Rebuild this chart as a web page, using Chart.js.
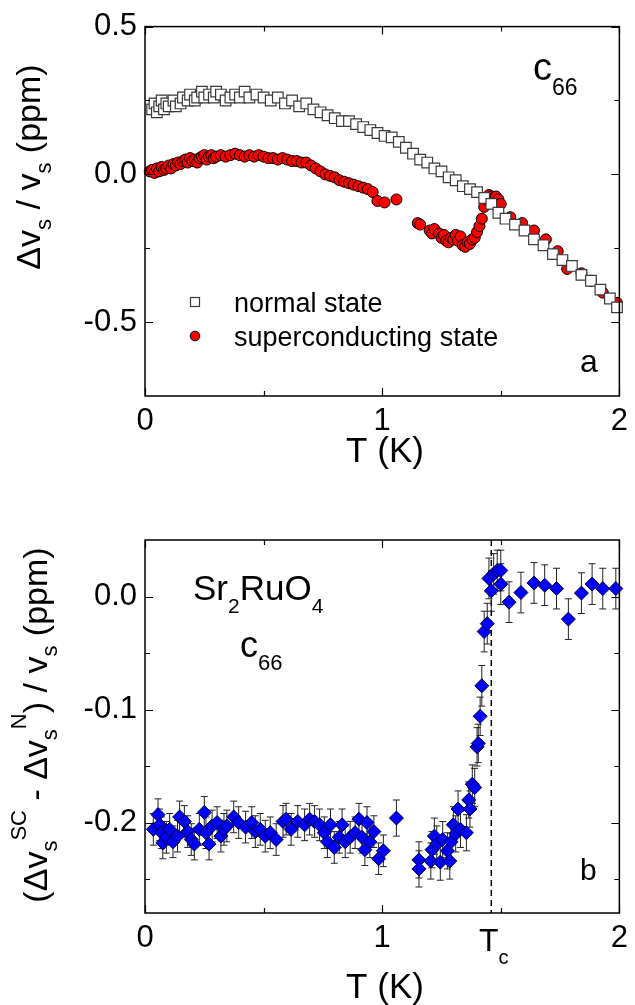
<!DOCTYPE html>
<html>
<head>
<meta charset="utf-8">
<script src="https://cdn.jsdelivr.net/npm/chart.js@4.4.1/dist/chart.umd.min.js"></script>
<style>
  html, body { margin: 0; padding: 0; background: #fff; }
  #wrap { position: relative; width: 635px; height: 1005px; }
  canvas { position: absolute; left: 0; }
</style>
</head>
<body>
<div id="wrap">
  <canvas id="panelA" width="635" height="470" style="top:0"></canvas>
  <canvas id="panelB" width="635" height="535" style="top:470px"></canvas>
</div>
<script>
// ---- data ----
// panel a: [T (K), dv/v (ppm)]
const normalState = [
  [0.03,0.22],[0.04,0.24],[0.05,0.21],[0.06,0.23],[0.07,0.25],[0.08,0.22],[0.09,0.24],[0.10,0.23],
  [0.12,0.25],[0.13,0.23],[0.15,0.24],[0.16,0.26],[0.18,0.25],[0.19,0.27],[0.21,0.25],[0.22,0.26],
  [0.24,0.28],[0.25,0.26],[0.27,0.27],[0.29,0.26],[0.30,0.28],[0.32,0.27],[0.34,0.25],[0.36,0.26],
  [0.38,0.27],[0.40,0.26],[0.42,0.28],[0.44,0.26],[0.47,0.27],[0.50,0.26],[0.53,0.25],[0.56,0.26],
  [0.59,0.24],[0.62,0.25],[0.65,0.23],[0.68,0.24],[0.71,0.22],[0.74,0.21],[0.77,0.20],[0.80,0.19],
  [0.83,0.18],[0.86,0.18],[0.89,0.17],[0.92,0.16],[0.95,0.15],[0.98,0.14],[1.01,0.13],[1.04,0.125],
  [1.07,0.11],[1.10,0.09],[1.13,0.07],[1.16,0.05],[1.19,0.04],[1.22,0.02],[1.25,0.01],[1.28,-0.01],
  [1.31,-0.02],[1.34,-0.04],[1.37,-0.05],[1.40,-0.06],[1.43,-0.08],[1.46,-0.10],[1.49,-0.13],[1.52,-0.15],
  [1.56,-0.17],[1.60,-0.19],[1.64,-0.22],[1.68,-0.24],[1.72,-0.27],[1.76,-0.29],[1.80,-0.31],[1.84,-0.34],
  [1.88,-0.36],[1.92,-0.39],[1.96,-0.42],[1.99,-0.45]
];
const superState = [
  [0.02,0.01],[0.03,0.015],[0.04,0.005],[0.05,0.02],[0.06,0.01],[0.07,0.025],[0.08,0.015],[0.09,0.02],
  [0.10,0.03],[0.11,0.02],[0.12,0.035],[0.13,0.03],[0.14,0.04],[0.15,0.035],[0.16,0.045],[0.17,0.05],
  [0.18,0.04],[0.19,0.055],[0.20,0.045],[0.21,0.05],[0.22,0.04],[0.23,0.055],[0.24,0.06],[0.25,0.065],
  [0.26,0.05],[0.27,0.06],[0.28,0.065],[0.29,0.055],[0.30,0.06],[0.32,0.065],[0.34,0.06],[0.36,0.065],
  [0.38,0.07],[0.40,0.065],[0.42,0.06],[0.44,0.065],[0.46,0.06],[0.48,0.065],[0.50,0.06],[0.52,0.055],
  [0.54,0.055],[0.56,0.05],[0.58,0.055],[0.60,0.05],[0.62,0.045],[0.64,0.045],[0.66,0.04],[0.68,0.04],
  [0.70,0.03],[0.72,0.02],[0.74,0.01],[0.76,0.0],[0.78,-0.005],[0.80,-0.01],[0.82,-0.02],[0.84,-0.025],
  [0.86,-0.03],[0.88,-0.035],[0.90,-0.04],[0.92,-0.045],[0.94,-0.05],[0.96,-0.06],[0.98,-0.09],[1.01,-0.095],
  [1.06,-0.085],[1.15,-0.165],[1.16,-0.17],[1.20,-0.19],[1.21,-0.2],[1.22,-0.185],[1.24,-0.2],[1.25,-0.215],
  [1.26,-0.205],[1.27,-0.225],[1.28,-0.23],[1.29,-0.215],[1.30,-0.22],[1.31,-0.205],[1.32,-0.225],[1.33,-0.21],
  [1.34,-0.24],[1.35,-0.245],[1.36,-0.23],[1.37,-0.235],[1.38,-0.22],[1.39,-0.215],[1.40,-0.195],[1.41,-0.175],
  [1.42,-0.15],[1.43,-0.11],[1.44,-0.085],[1.45,-0.07],[1.46,-0.075],[1.47,-0.08],[1.48,-0.075],[1.49,-0.085],
  [1.50,-0.1],[1.54,-0.145],[1.59,-0.165],[1.64,-0.19],[1.69,-0.22],[1.74,-0.26],[1.78,-0.32],[1.84,-0.335],
  [1.88,-0.36],[1.93,-0.40],[1.99,-0.435]
];
// panel b: [T (K), (dv_SC - dv_N)/v (ppm), error]
const scMinusN = [
  [0.035,-0.206,0.014],[0.055,-0.193,0.014],[0.062,-0.202,0.014],[0.07,-0.209,0.014],[0.075,-0.218,0.014],
  [0.09,-0.213,0.014],[0.104,-0.206,0.014],[0.118,-0.217,0.014],[0.137,-0.212,0.014],[0.146,-0.195,0.014],
  [0.166,-0.199,0.014],[0.18,-0.208,0.014],[0.195,-0.215,0.014],[0.208,-0.219,0.014],[0.229,-0.206,0.014],
  [0.25,-0.191,0.014],[0.257,-0.209,0.014],[0.27,-0.219,0.014],[0.283,-0.203,0.014],[0.304,-0.2,0.014],
  [0.32,-0.212,0.014],[0.333,-0.206,0.014],[0.345,-0.203,0.014],[0.374,-0.195,0.014],[0.395,-0.2,0.014],
  [0.424,-0.204,0.014],[0.45,-0.2,0.014],[0.465,-0.208,0.014],[0.486,-0.206,0.014],[0.507,-0.212,0.014],
  [0.528,-0.209,0.014],[0.553,-0.215,0.014],[0.582,-0.199,0.014],[0.595,-0.197,0.014],[0.616,-0.206,0.014],
  [0.644,-0.199,0.014],[0.673,-0.202,0.014],[0.694,-0.197,0.014],[0.715,-0.199,0.014],[0.736,-0.202,0.014],
  [0.756,-0.209,0.014],[0.769,-0.217,0.014],[0.782,-0.202,0.014],[0.798,-0.222,0.014],[0.819,-0.213,0.014],
  [0.831,-0.202,0.014],[0.844,-0.217,0.014],[0.865,-0.213,0.014],[0.886,-0.209,0.014],[0.902,-0.197,0.014],
  [0.915,-0.213,0.014],[0.927,-0.224,0.014],[0.936,-0.2,0.014],[0.948,-0.217,0.014],[0.965,-0.208,0.014],
  [0.985,-0.232,0.014],[1.005,-0.225,0.014],[1.06,-0.196,0.016],[1.155,-0.233,0.016],[1.155,-0.241,0.016],
  [1.205,-0.234,0.016],[1.21,-0.224,0.016],[1.22,-0.212,0.016],[1.23,-0.219,0.016],[1.245,-0.235,0.016],
  [1.255,-0.215,0.016],[1.275,-0.225,0.016],[1.285,-0.234,0.016],[1.29,-0.217,0.016],[1.30,-0.202,0.016],
  [1.31,-0.21,0.016],[1.32,-0.188,0.016],[1.33,-0.206,0.016],[1.355,-0.209,0.016],[1.365,-0.18,0.016],
  [1.37,-0.188,0.016],[1.38,-0.166,0.017],[1.39,-0.169,0.017],[1.40,-0.133,0.017],[1.405,-0.13,0.017],
  [1.413,-0.106,0.017],[1.42,-0.079,0.018],[1.43,-0.031,0.018],[1.443,-0.024,0.018],[1.45,0.016,0.018],
  [1.46,0.005,0.018],[1.47,0.02,0.018],[1.485,0.023,0.018],[1.50,0.023,0.018],[1.50,0.011,0.018],
  [1.535,-0.005,0.018],[1.585,0.0035,0.018],[1.64,0.012,0.018],[1.685,0.01,0.018],[1.735,0.007,0.018],
  [1.785,-0.02,0.018],[1.84,0.003,0.018],[1.885,0.011,0.018],[1.93,0.007,0.018],[1.985,0.007,0.018]
];
const TC = 1.46;

// ticks
const xMajor = [0, 1, 2];
const xMinor = [0.5, 1.5];
const yMajorA = [0.5, 0.0, -0.5];
const yMinorA = [0.25, -0.25];
const yMajorB = [0.0, -0.1, -0.2];
const yMinorB = [-0.05, -0.15, -0.25];

const FONT = '"Liberation Sans", Arial, Helvetica, sans-serif';
const TICK_SIZE = 31;

// draws text made of [text, size, baselineShift] pieces, optionally rotated
function drawRich(ctx, x, y, parts, align, rotate) {
  ctx.save();
  ctx.translate(x, y);
  if (rotate) ctx.rotate(-Math.PI / 2);
  let total = 0;
  const widths = parts.map(([t, s]) => {
    ctx.font = s + 'px ' + FONT;
    const w = ctx.measureText(t).width;
    total += w;
    return w;
  });
  let cx = align === 'center' ? -total / 2 : 0;
  ctx.fillStyle = '#000';
  ctx.textAlign = 'left';
  ctx.textBaseline = 'alphabetic';
  parts.forEach(([t, s, dy], i) => {
    ctx.font = s + 'px ' + FONT;
    ctx.fillText(t, cx, dy || 0);
    cx += widths[i];
  });
  ctx.restore();
}

// box + inward ticks on all four sides
function drawFrame(chart, yMajor, yMinor) {
  const { ctx, chartArea: a, scales: { x, y } } = chart;
  ctx.save();
  ctx.strokeStyle = '#000';
  ctx.lineWidth = 1.5;
  ctx.strokeRect(a.left, a.top, a.right - a.left, a.bottom - a.top);
  ctx.lineWidth = 1.2;
  ctx.beginPath();
  const vx = (vals, len) => vals.forEach(v => {
    const p = Math.round(x.getPixelForValue(v)) + 0.5;
    ctx.moveTo(p, a.bottom); ctx.lineTo(p, a.bottom - len);
    ctx.moveTo(p, a.top); ctx.lineTo(p, a.top + len);
  });
  const vy = (vals, len) => vals.forEach(v => {
    const p = Math.round(y.getPixelForValue(v)) + 0.5;
    ctx.moveTo(a.left, p); ctx.lineTo(a.left + len, p);
    ctx.moveTo(a.right, p); ctx.lineTo(a.right - len, p);
  });
  vx(xMajor, 8); vx(xMinor, 5);
  vy(yMajor, 8); vy(yMinor, 5);
  ctx.stroke();
  ctx.restore();
}

function scalesFor(yMin, yMax, yMajor, xAxisHeight) {
  return {
    x: {
      type: 'linear', min: 0, max: 2,
      afterBuildTicks: s => { s.ticks = xMajor.map(v => ({ value: v })); },
      afterFit: s => { s.height = xAxisHeight; },
      grid: { display: false, drawTicks: false },
      border: { display: false },
      ticks: { font: { family: FONT, size: TICK_SIZE }, color: '#000', padding: 7, maxRotation: 0,
               callback: v => String(v) }
    },
    y: {
      type: 'linear', min: yMin, max: yMax,
      afterBuildTicks: s => { s.ticks = yMajor.map(v => ({ value: v })); },
      afterFit: s => { s.width = 145; },
      grid: { display: false, drawTicks: false },
      border: { display: false },
      ticks: { font: { family: FONT, size: TICK_SIZE }, color: '#000', padding: 8,
               callback: v => v.toFixed(1) }
    }
  };
}

const commonOpts = {
  responsive: false,
  animation: false,
  devicePixelRatio: 1,
  events: [],
  plugins: { legend: { display: false }, tooltip: { enabled: false } }
};

// ---- panel a ----
new Chart(document.getElementById('panelA'), {
  type: 'scatter',
  data: {
    datasets: [
      {
        label: 'normal state',
        data: normalState.map(([t, v]) => ({ x: t, y: v })),
        pointStyle: 'rect', pointRadius: 7.5,
        backgroundColor: '#fff', borderColor: '#3a3a3a', borderWidth: 1.2,
        clip: false
      },
      {
        label: 'superconducting state',
        data: superState.map(([t, v]) => ({ x: t, y: v })),
        pointStyle: 'circle', pointRadius: 5.5,
        backgroundColor: '#ff0000', borderColor: '#000', borderWidth: 1,
        clip: false
      }
    ]
  },
  options: {
    ...commonOpts,
    layout: { padding: { top: 23, right: 8, left: 0, bottom: 0 } },
    scales: scalesFor(-0.75, 0.5, yMajorA, 74)
  },
  plugins: [{
    id: 'decorA',
    afterDatasetsDraw(chart) {
      const ctx = chart.ctx;
      drawFrame(chart, yMajorA, yMinorA);
      drawRich(ctx, 40, 167, [['\u0394v', 34, 0], ['s', 22, 11], [' / v', 34, 0], ['s', 22, 11], [' (ppm)', 34, 0]], 'center', true);
      drawRich(ctx, 385, 462, [['T (K)', 35, 0]], 'center', false);
      drawRich(ctx, 533, 80, [['c', 38, 0], ['66', 23, 15]], 'left', false);
      drawRich(ctx, 580, 372, [['a', 32, 0]], 'left', false);
      // legend
      ctx.save();
      ctx.fillStyle = '#fff'; ctx.strokeStyle = '#3a3a3a'; ctx.lineWidth = 1.2;
      ctx.fillRect(190.5, 297.5, 9, 9); ctx.strokeRect(190.5, 297.5, 9, 9);
      ctx.beginPath(); ctx.arc(195, 336, 4.8, 0, Math.PI * 2);
      ctx.fillStyle = '#ff0000'; ctx.fill(); ctx.strokeStyle = '#000'; ctx.lineWidth = 1; ctx.stroke();
      ctx.restore();
      drawRich(ctx, 234, 312, [[chart.data.datasets[0].label, 27, 0]], 'left', false);
      drawRich(ctx, 234, 346, [[chart.data.datasets[1].label, 27, 0]], 'left', false);
    }
  }]
});

// ---- panel b ----
new Chart(document.getElementById('panelB'), {
  type: 'scatter',
  data: {
    datasets: [{
      label: 'SC - N',
      data: scMinusN.map(([t, v]) => ({ x: t, y: v })),
      pointStyle: 'rectRot', pointRadius: 7,
      backgroundColor: '#0000ff', borderColor: '#000030', borderWidth: 1,
      clip: false
    }]
  },
  options: {
    ...commonOpts,
    layout: { padding: { top: 70, right: 8, left: 0, bottom: 0 } },
    scales: scalesFor(-0.28, 0.05, yMajorB, 92)
  },
  plugins: [{
    id: 'decorB',
    beforeDatasetsDraw(chart) {
      const { ctx, chartArea: a, scales: { x, y } } = chart;
      ctx.save();
      // Tc marker
      const px = x.getPixelForValue(TC);
      ctx.strokeStyle = '#000'; ctx.lineWidth = 1.5; ctx.setLineDash([6, 4]);
      ctx.beginPath(); ctx.moveTo(px, a.top); ctx.lineTo(px, a.bottom); ctx.stroke();
      ctx.setLineDash([]);
      // error bars
      ctx.strokeStyle = '#222'; ctx.lineWidth = 1;
      ctx.beginPath();
      scMinusN.forEach(([t, v, e]) => {
        const cx = x.getPixelForValue(t);
        const y1 = y.getPixelForValue(v + e), y2 = y.getPixelForValue(v - e);
        ctx.moveTo(cx, y1); ctx.lineTo(cx, y2);
        ctx.moveTo(cx - 3.5, y1); ctx.lineTo(cx + 3.5, y1);
        ctx.moveTo(cx - 3.5, y2); ctx.lineTo(cx + 3.5, y2);
      });
      ctx.stroke();
      ctx.restore();
    },
    afterDatasetsDraw(chart) {
      const ctx = chart.ctx;
      drawFrame(chart, yMajorB, yMinorB);
      drawRich(ctx, 47, 255, [['(\u0394v', 34, 0], ['s', 22, 10], ['SC', 22, -21], [' - \u0394v', 34, 0], ['s', 22, 10], ['N', 22, -21],
        [') / v', 34, 0], ['s', 22, 10], [' (ppm)', 34, 0]], 'center', true);
      drawRich(ctx, 385, 528, [['T (K)', 35, 0]], 'center', false);
      drawRich(ctx, 193, 130, [['Sr', 35, 0], ['2', 21, 13], ['RuO', 35, 0], ['4', 21, 13]], 'left', false);
      drawRich(ctx, 240, 187, [['c', 36, 0], ['66', 22, 13]], 'left', false);
      drawRich(ctx, 580, 410, [['b', 30, 0]], 'left', false);
      drawRich(ctx, 479, 481, [['T', 32, 0], ['c', 20, 13]], 'left', false);
    }
  }]
});
</script>
</body>
</html>
